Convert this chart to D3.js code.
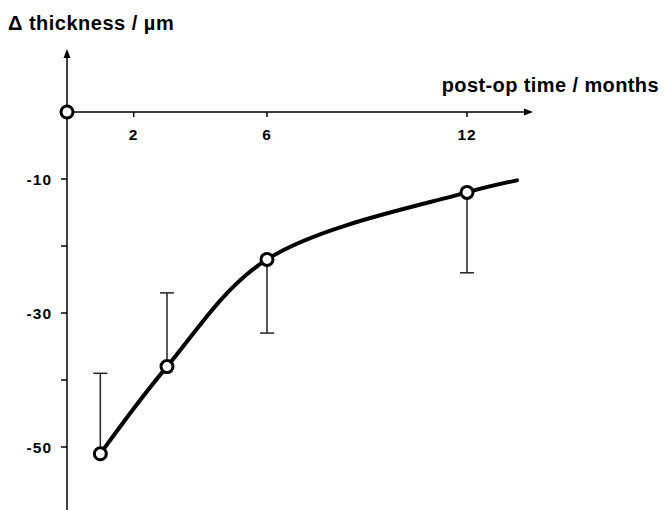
<!DOCTYPE html>
<html>
<head>
<meta charset="utf-8">
<script src="https://cdn.jsdelivr.net/npm/d3@7"></script>
<style>
  body { margin: 0; background: #fff; }
  svg text { font-family: "Liberation Sans", Arial, sans-serif; font-weight: bold; fill: #000; }
</style>
</head>
<body>
<div id="chart"></div>
<script>
const width = 664, height = 510;

// measured points (months after surgery, change in thickness)
const months = [0, 1, 3, 6, 12];
const thickness = [0, -51, -38, -22, -12];
// one-sided error bar end for each point (null = none)
const errEnd = [null, -39, -27, -33, -24];

// smooth trend curve drawn through the points
const curveMonths = [1, 3, 6, 12, 13.5];
const curveThickness = [-51, -38, -22, -12, -10.2];

const xTicks = [2, 6, 12];
const yTicks = [-10, -20, -30, -40, -50];
const yLabels = [-10, -30, -50];

const svg = d3.select("#chart")
	.append("svg")
	.attr("width", width)
	.attr("height", height);

const x = d3.scaleLinear().domain([0, 12]).range([67, 467]);
const y = d3.scaleLinear().domain([0, -50]).range([112, 447]);

// ---- axes ----
const axes = svg.append("g").attr("stroke", "#000").attr("stroke-width", 1.5);

axes.append("line")
	.attr("x1", x(0)).attr("x2", x(0))
	.attr("y1", 56).attr("y2", height);
axes.append("line")
	.attr("x1", x(0)).attr("x2", 526)
	.attr("y1", y(0)).attr("y2", y(0));

// arrow heads
svg.append("path")
	.attr("d", `M${x(0)},49 L${x(0) - 3.5},58 L${x(0) + 3.5},58 Z`)
	.attr("fill", "#000");
svg.append("path")
	.attr("d", `M533,${y(0)} L524,${y(0) - 3.5} L524,${y(0) + 3.5} Z`)
	.attr("fill", "#000");

// x ticks
axes.selectAll(".xt")
	.data(xTicks)
	.enter().append("line")
	.attr("x1", (d) => x(d)).attr("x2", (d) => x(d))
	.attr("y1", y(0)).attr("y2", y(0) + 5);

svg.selectAll(".xl")
	.data(xTicks)
	.enter().append("text")
	.attr("x", (d) => x(d))
	.attr("y", y(0) + 28)
	.attr("text-anchor", "middle")
	.attr("font-size", 15.5)
	.attr("letter-spacing", 1)
	.text((d) => d);

// y ticks
axes.selectAll(".yt")
	.data(yTicks)
	.enter().append("line")
	.attr("x1", x(0) - 6).attr("x2", x(0))
	.attr("y1", (d) => y(d)).attr("y2", (d) => y(d));

svg.selectAll(".yl")
	.data(yLabels)
	.enter().append("text")
	.attr("x", x(0) - 15)
	.attr("y", (d) => y(d) + 6)
	.attr("text-anchor", "end")
	.attr("font-size", 15.5)
	.attr("letter-spacing", 1)
	.text((d) => d);

// axis titles
svg.append("text")
	.attr("x", 8).attr("y", 30)
	.attr("font-size", 20)
	.attr("letter-spacing", 0.5)
	.text("Δ thickness / µm");

svg.append("text")
	.attr("x", 659).attr("y", 92)
	.attr("text-anchor", "end")
	.attr("font-size", 20)
	.attr("letter-spacing", 0.4)
	.text("post-op time / months");

// ---- error bars ----
const bars = months.map((m, i) => ({m: m, v: thickness[i], e: errEnd[i]}))
	.filter((d) => d.e !== null);

const eb = svg.append("g").attr("stroke", "#222").attr("stroke-width", 1.5);
eb.selectAll(".ebl")
	.data(bars)
	.enter().append("line")
	.attr("x1", (d) => x(d.m)).attr("x2", (d) => x(d.m))
	.attr("y1", (d) => y(d.v)).attr("y2", (d) => y(d.e));
eb.selectAll(".ebc")
	.data(bars)
	.enter().append("line")
	.attr("x1", (d) => x(d.m) - 7).attr("x2", (d) => x(d.m) + 7)
	.attr("y1", (d) => y(d.e)).attr("y2", (d) => y(d.e));

// ---- trend curve ----
const line = d3.line()
	.x((d) => x(d[0]))
	.y((d) => y(d[1]))
	.curve(d3.curveCatmullRom.alpha(0.5));

svg.append("path")
	.datum(curveMonths.map((m, i) => [m, curveThickness[i]]))
	.attr("d", line)
	.attr("fill", "none")
	.attr("stroke", "#000")
	.attr("stroke-width", 4)
	.attr("stroke-linecap", "round");

// ---- points ----
svg.selectAll(".pt")
	.data(months.map((m, i) => [m, thickness[i]]))
	.enter().append("circle")
	.attr("cx", (d) => x(d[0]))
	.attr("cy", (d) => y(d[1]))
	.attr("r", 6)
	.attr("fill", "#fff")
	.attr("stroke", "#000")
	.attr("stroke-width", 3);
</script>
</body>
</html>
